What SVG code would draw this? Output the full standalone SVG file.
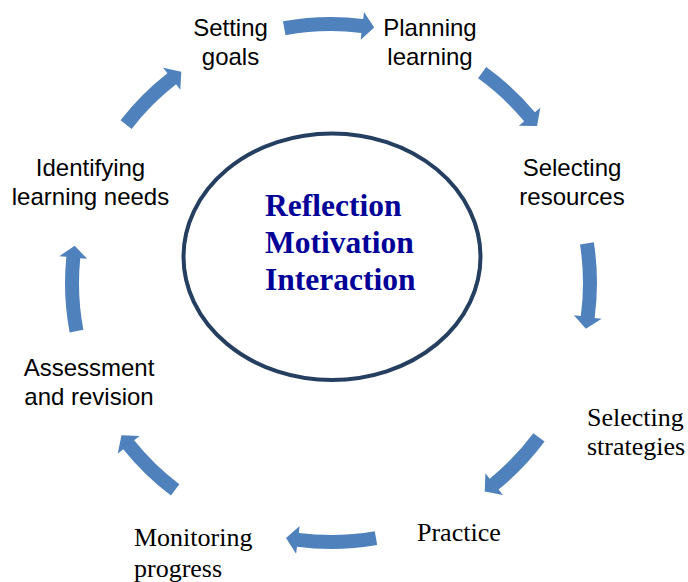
<svg xmlns="http://www.w3.org/2000/svg" width="688" height="582" viewBox="0 0 688 582">
<defs>
<style>
.sans{font-family:"Liberation Sans",Arial,sans-serif;font-size:24px;fill:#000;text-anchor:middle}
.serif{font-family:"Liberation Serif","Times New Roman",serif;font-size:26px;fill:#000}
.core{font-family:"Liberation Serif","Times New Roman",serif;font-size:31.5px;font-weight:bold;fill:#000099}
.arr{fill:#4F81BD}
</style>
<path id="a20" d="M266,0 A266,266 0 0 1 253.9,79.3 L260.6,81.4 L243.4,88.6 L233.9,73.1 L240.5,75.1 A252,252 0 0 0 252,0 Z"/>
<path id="a19" d="M266,0 A266,266 0 0 1 255.2,74.9 L262.0,76.8 L244.9,84.3 L235.1,69.0 L241.8,70.9 A252,252 0 0 0 252,0 Z"/>
<path id="a17" d="M266,0 A266,266 0 0 1 257.7,65.9 L264.5,67.7 L247.7,75.7 L237.4,60.7 L244.1,62.5 A252,252 0 0 0 252,0 Z"/>
</defs>
<rect width="688" height="582" fill="#fff"/>
<g id="center">
<ellipse cx="332" cy="256.7" rx="148.5" ry="123.3" fill="#fff" stroke="#243F60" stroke-width="4"/>
<text class="core" x="265" y="216">Reflection</text>
<text class="core" x="265" y="253">Motivation</text>
<text class="core" x="265" y="290">Interaction</text>
</g>
<g id="node-setting-goals"><text class="sans" x="230.5" y="36">Setting</text><text class="sans" x="230.5" y="65">goals</text></g>
<g id="node-planning-learning"><text class="sans" x="430" y="36">Planning</text><text class="sans" x="430" y="65">learning</text></g>
<g id="node-selecting-resources"><text class="sans" x="572" y="176">Selecting</text><text class="sans" x="572" y="205">resources</text></g>
<g id="node-selecting-strategies"><text class="serif" x="587" y="425.5">Selecting</text><text class="serif" x="587" y="455">strategies</text></g>
<g id="node-practice"><text class="serif" x="417" y="540.5">Practice</text></g>
<g id="node-monitoring-progress"><text class="serif" x="134" y="546">Monitoring</text><text class="serif" x="134" y="577">progress</text></g>
<g id="node-assessment-revision"><text class="sans" x="89" y="376">Assessment</text><text class="sans" x="89" y="405">and revision</text></g>
<g id="node-identifying-needs"><text class="sans" x="90.5" y="176">Identifying</text><text class="sans" x="90.5" y="205">learning needs</text></g>
<g id="connectors" class="arr">
<use href="#a20" transform="translate(331,283) rotate(-100.4)"/>
<use href="#a17" transform="translate(331,283) rotate(-54.3)"/>
<use href="#a19" transform="translate(331,283) rotate(-8.8)"/>
<use href="#a17" transform="translate(331,283) rotate(36.6)"/>
<use href="#a20" transform="translate(331,283) rotate(80)"/>
<use href="#a17" transform="translate(331,283) rotate(127)"/>
<use href="#a19" transform="translate(331,283) rotate(169.3)"/>
<use href="#a17" transform="translate(331,283) rotate(-142.3)"/>
</g>
</svg>
